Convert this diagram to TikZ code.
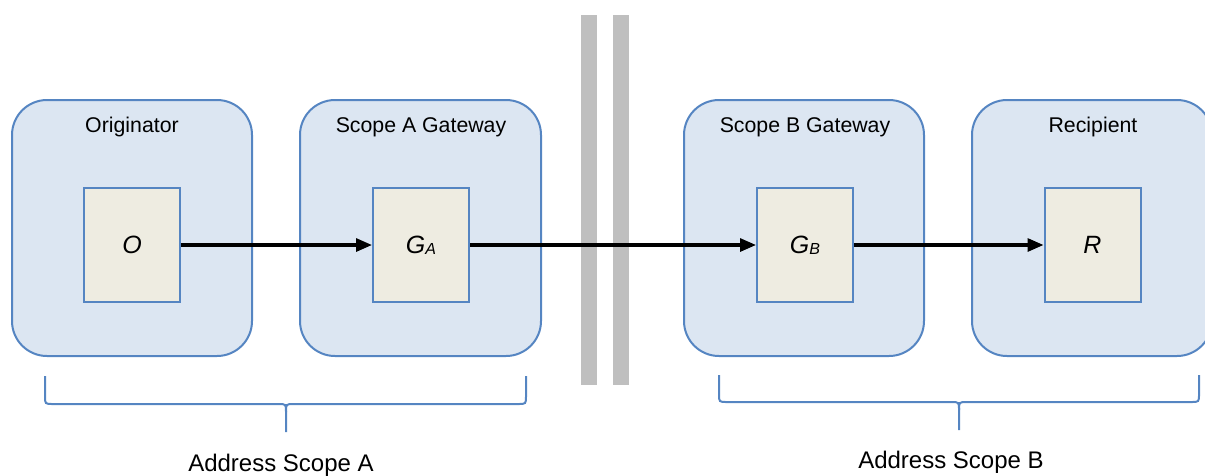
\documentclass[tikz,border=0pt]{standalone}
\usepackage{fontspec}
\setmainfont{Liberation Sans}
\usetikzlibrary{arrows.meta}
\definecolor{scopefill}{HTML}{DCE6F2}
\definecolor{scopeline}{HTML}{5585C2}
\definecolor{boxfill}{HTML}{EEECE1}
\definecolor{wallgray}{HTML}{BFBFBF}
\tikzset{
  party/.style={draw=scopeline, fill=scopefill, line width=2pt, rounded corners=35pt,
    minimum width=240pt, minimum height=256pt, inner sep=0pt},
  title/.style={anchor=base, font=\fontsize{21.3}{24}\selectfont},
  agent/.style={draw=scopeline, fill=boxfill, line width=2pt,
    minimum width=96pt, minimum height=114pt, inner sep=0pt,
    font=\fontsize{25}{28}\selectfont\itshape},
  flow/.style={line width=3.1pt, -{Triangle[length=16pt,width=13pt]}},
  brace/.style={draw=scopeline, line width=2pt},
  caption/.style={anchor=base, font=\fontsize{24}{28}\selectfont},
}
\newcommand{\subidx}[1]{\raisebox{-1pt}{\fontsize{16}{18}\selectfont #1}}
\begin{document}
\begin{tikzpicture}[x=1pt, y=-1pt]
\useasboundingbox (0,0) rectangle (1205,475);
\clip (0,0) rectangle (1205,475);

% separating wall between the two address scopes
\fill[wallgray] (580.5,15) rectangle (596.5,385);
\fill[wallgray] (612.5,15) rectangle (628.5,385);

% parties
\node[party] (orig) at (132,228) {};
\node[party, minimum width=241pt] (gwa) at (420.5,228) {};
\node[party] (gwb) at (804,228) {};
\node[party] (recp) at (1092,228) {};

\node[title] (torig) at (132,132) {Originator};
\node[title] (tgwa) at (421,132) {Scope A Gateway};
\node[title] (tgwb) at (805,132) {Scope B Gateway};
\node[title] (trecp) at (1093,132) {Recipient};

% agents inside each party
\node[agent] (o) at (132,245) {O};
\node[agent] (ga) at (421,245) {G\subidx{A}};
\node[agent] (gb) at (805,245) {G\subidx{B}};
\node[agent] (r) at (1092.5,245) {R};

% message path
\draw[flow] (o) -- (ga);
\draw[flow] (ga) -- (gb);
\draw[flow] (gb) -- (r);

% brace under scope A
\coordinate (al) at (45,376);
\coordinate (ar) at (526,376);
\coordinate (at) at (286,432);
\draw[brace] (al) -- (45,396) .. controls (45,404) .. (53,404) -- (278,404)
  .. controls (286,404) .. (286,412) -- (at);
\draw[brace] (ar) -- (526,396) .. controls (526,404) .. (518,404) -- (294,404)
  .. controls (286,404) .. (286,412);
\node[caption] (capa) at (281,471) {Address Scope A};

% brace under scope B
\coordinate (bl) at (719,375);
\coordinate (br) at (1199,375);
\coordinate (bt) at (959,430);
\draw[brace] (bl) -- (719,394) .. controls (719,402) .. (727,402) -- (951,402)
  .. controls (959,402) .. (959,410) -- (bt);
\draw[brace] (br) -- (1199,394) .. controls (1199,402) .. (1191,402) -- (967,402)
  .. controls (959,402) .. (959,410);
\node[caption] (capb) at (951,468) {Address Scope B};
\end{tikzpicture}
\end{document}
